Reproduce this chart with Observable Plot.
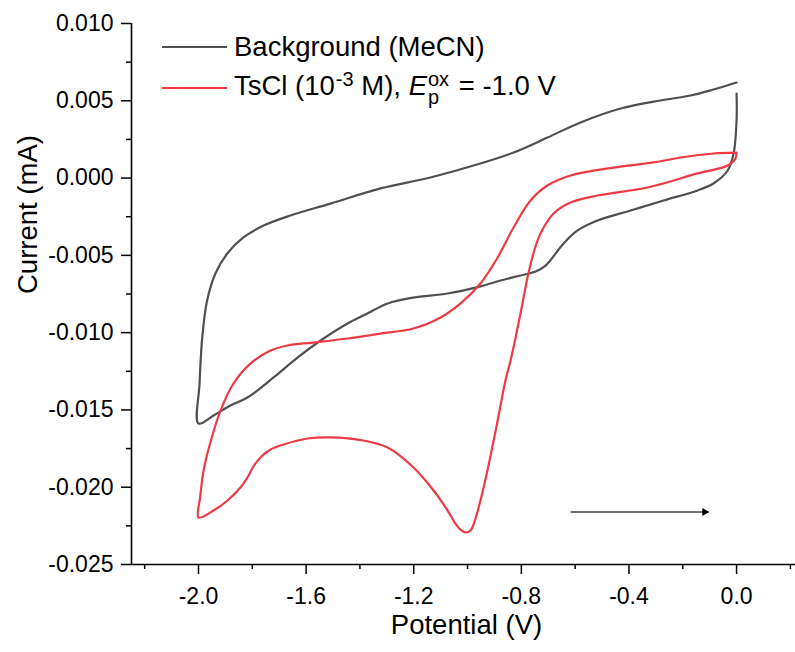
<!DOCTYPE html>
<html>
<head>
<meta charset="utf-8">
<script src="https://cdn.jsdelivr.net/npm/d3@7"></script>
<script src="https://cdn.jsdelivr.net/npm/@observablehq/plot@0.6"></script>
<style>
  body { margin: 0; background: #fff; }
  #wrap { position: relative; width: 795px; height: 652px; font-family: "Liberation Sans", Arial, sans-serif; color: #000; }
  .row { position: absolute; left: 162px; display: flex; align-items: center; height: 36px; font-size: 27.5px; white-space: nowrap; }
  .sw { width: 65px; height: 2px; margin-right: 7px; flex: none; }
  .sup3 { font-size: 20px; position: relative; top: -9px; margin-left: 1px; }
  .stack { display: inline-flex; flex-direction: column; vertical-align: middle; font-size: 20px; line-height: 18px; margin-left: 1px; margin-right: 2px; }
</style>
</head>
<body>
<div id="wrap"></div>
<script>
// ---- data ----
const bgPotential = [0.0, 0.0, -0.011, -0.033, -0.086, -0.145, -0.271, -0.394, -0.517, -0.591, -0.643, -0.710, -0.747, -0.803, -0.877, -0.952, -1.074, -1.201, -1.297, -1.372, -1.446, -1.546, -1.632, -1.721, -1.818, -1.881, -1.944, -2.0,
  -1.996, -1.986, -1.968, -1.937, -1.893, -1.833, -1.758, -1.658, -1.509, -1.323, -1.138, -0.952, -0.829, -0.703, -0.580, -0.431, -0.283, -0.171, -0.086, 0.0];
const bgCurrent = [0.00547, 0.00372, 0.00159, 0.00049, -0.00035, -0.00080, -0.00145, -0.00210, -0.00274, -0.00339, -0.00423, -0.00566, -0.00604, -0.00630, -0.00663, -0.00701, -0.00747, -0.00773, -0.00811, -0.00876, -0.00941, -0.01051, -0.01161, -0.01290, -0.01420, -0.01471, -0.01536, -0.01588,
  -0.01329, -0.01031, -0.00792, -0.00617, -0.00488, -0.00384, -0.00307, -0.00242, -0.00165, -0.00067, 0.00004, 0.00094, 0.00165, 0.00262, 0.00360, 0.00450, 0.00502, 0.00534, 0.00573, 0.00618];

const tsPotential = [0.0, -0.086, -0.208, -0.309, -0.457, -0.617, -0.703, -0.766, -0.829, -0.888, -0.952, -1.026, -1.100, -1.201, -1.323, -1.446, -1.572, -1.669, -1.732, -1.807, -1.870, -1.918, -1.959, -1.981, -1.994, -2.0,
  -1.944, -1.892, -1.844, -1.818, -1.796, -1.766, -1.732, -1.684, -1.595, -1.509, -1.387, -1.297, -1.201, -1.126, -1.074, -1.045, -1.026, -1.007, -0.989, -0.974, -0.952, -0.926, -0.888, -0.859, -0.840, -0.803, -0.777, -0.755, -0.729, -0.680, -0.617, -0.517, -0.331, -0.145, -0.033, -0.004, 0.0];
const tsCurrent = [0.00165, 0.00159, 0.00133, 0.00101, 0.00068, 0.00017, -0.00048, -0.00145, -0.00320, -0.00514, -0.00682, -0.00811, -0.00902, -0.00973, -0.01006, -0.01038, -0.01064, -0.01083, -0.01116, -0.01200, -0.01329, -0.01504, -0.01730, -0.01892, -0.02067, -0.02196,
  -0.02151, -0.02086, -0.02002, -0.01937, -0.01866, -0.01801, -0.01756, -0.01724, -0.01685, -0.01678, -0.01698, -0.01743, -0.01872, -0.02021, -0.02151, -0.02235, -0.02274, -0.02293, -0.02280, -0.02222, -0.02086, -0.01892, -0.01568, -0.01310, -0.01180, -0.00876, -0.00643, -0.00488, -0.00359, -0.00229, -0.00158, -0.00113, -0.00061, 0.00030, 0.00081, 0.00127, 0.00165];

const seriesNames = ["Background (MeCN)", "TsCl"];
const xMajorTicks = [-2.0, -1.6, -1.2, -0.8, -0.4, 0.0];
const xMinorTicks = [-2.2, -1.8, -1.4, -1.0, -0.6, -0.2, 0.2];
const yMajorTicks = [-0.025, -0.020, -0.015, -0.010, -0.005, 0.000, 0.005, 0.010];
const yMinorTicks = [-0.0225, -0.0175, -0.0125, -0.0075, -0.0025, 0.0025, 0.0075];
const scanArrowPotential = [-0.617, -0.104];
const scanArrowCurrent = -0.0216;

// ---- build tables ----
const bg = bgPotential.map((x, i) => ({x, y: bgCurrent[i], s: seriesNames[0]}));
const ts = tsPotential.map((x, i) => ({x, y: tsCurrent[i], s: seriesNames[1]}));
const xDomain = [-2.249, 0.219];
const yDomain = [-0.025, 0.010];
const arrowData = [{x1: scanArrowPotential[0], x2: scanArrowPotential[1], y: scanArrowCurrent}];

const gray = "#505050";
const red = "#ee3a45";

const chart = Plot.plot({
  width: 795,
  height: 652,
  marginLeft: 131,
  marginRight: 0,
  marginTop: 23,
  marginBottom: 88,
  style: {fontFamily: "'Liberation Sans', Arial, sans-serif", fontSize: "23px", color: "#000", background: "#fff", overflow: "visible"},
  x: {domain: xDomain, label: null},
  y: {domain: yDomain, label: null},
  marks: [
    Plot.axisX({ticks: xMajorTicks, tickSize: 10, tickPadding: 13, strokeWidth: 1.5, tickFormat: d => d.toFixed(1), fontSize: 23, label: null}),
    Plot.axisX({ticks: xMinorTicks, tickSize: 5, strokeWidth: 1.5, tickFormat: () => "", label: null}),
    Plot.axisY({ticks: yMajorTicks, tickSize: 10, tickPadding: 8, strokeWidth: 1.5, tickFormat: d => d.toFixed(3), fontSize: 23, label: null}),
    Plot.axisY({ticks: yMinorTicks, tickSize: 5, strokeWidth: 1.5, tickFormat: () => "", label: null}),
    Plot.ruleX([xDomain[0]], {stroke: "#000", strokeWidth: 1.6}),
    Plot.ruleY([yDomain[0]], {stroke: "#000", strokeWidth: 1.6}),
    Plot.line(bg, {x: "x", y: "y", stroke: gray, strokeWidth: 2.2, curve: "catmull-rom"}),
    Plot.line(ts, {x: "x", y: "y", stroke: red, strokeWidth: 2.2, curve: "catmull-rom"}),
    Plot.link(arrowData, {x1: "x1", x2: "x2", y1: "y", y2: "y", stroke: "#444", strokeWidth: 1.6}),
    Plot.dot(arrowData, {x: "x2", y: "y", symbol: "triangle2", rotate: 90, r: 3.8, fill: "#000", stroke: null, dx: -4}),
    Plot.text(["Potential (V)"], {frameAnchor: "bottom", dy: 69, dx: 3, fontSize: 27.5, fill: "#000"}),
    Plot.text(["Current (mA)"], {frameAnchor: "left", rotate: -90, dx: -103, fontSize: 27.5, fill: "#000"})
  ]
});

const wrap = document.getElementById("wrap");
wrap.appendChild(chart);

// legend overlay (inside plot area, as in the reference)
const leg1 = document.createElement("div");
leg1.className = "row";
leg1.style.top = (47 - 18) + "px";
leg1.innerHTML = `<div class="sw" style="background:${gray}"></div><span>${seriesNames[0]}</span>`;
wrap.appendChild(leg1);

const leg2 = document.createElement("div");
leg2.className = "row";
leg2.style.top = (88 - 18) + "px";
leg2.innerHTML = `<div class="sw" style="background:${red}"></div><span>${seriesNames[1]} (10<span class="sup3">-3</span> M), <i>E</i><span class="stack"><span>ox</span><span>p</span></span> = -1.0 V</span>`;
wrap.appendChild(leg2);
</script>
</body>
</html>
